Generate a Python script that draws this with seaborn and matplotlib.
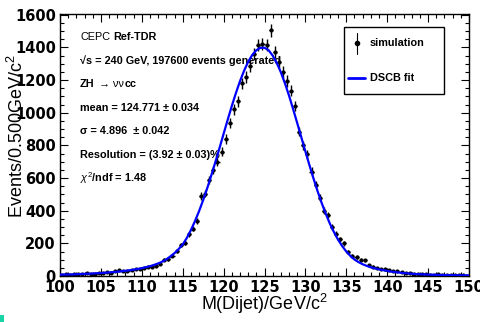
import numpy as np
import pandas as pd
import matplotlib
matplotlib.use("Agg")
import matplotlib.pyplot as plt
import seaborn as sns
from matplotlib.patches import Rectangle
from matplotlib.lines import Line2D

# ---------------- data ----------------
bin_lo, bin_hi, bin_w = 100.0, 150.0, 0.5
bin_centers = np.arange(bin_lo + bin_w / 2, bin_hi, bin_w)

counts = [
    9, 11, 8, 12, 10, 13, 18, 15, 14, 16,
    18, 22, 20, 30, 36, 28, 33, 36, 42, 45,
    50, 55, 58, 62, 75, 100, 105, 125, 155, 190,
    205, 255, 290, 335, 490, 505, 590, 650, 700, 760,
    840, 935, 1020, 1070, 1180, 1220, 1285, 1360, 1415, 1420,
    1415, 1505, 1370, 1310, 1250, 1195, 1135, 1040, 885, 800,
    745, 640, 560, 480, 400, 375, 300, 260, 225, 200,
    150, 125, 115, 100, 95, 68, 58, 50, 45, 40,
    36, 30, 28, 27, 20, 17, 14, 13, 11, 10,
    9, 8, 10, 7, 6, 8, 5, 4, 5, 3,
]

fit_x = np.arange(bin_lo, bin_hi + 0.01, 0.5)
fit_y = [
    8.5, 9, 9.5, 10, 11, 12, 13, 14, 15, 17,
    18, 20, 22, 24, 26, 29, 32, 35, 39, 43,
    48, 54, 60, 68, 77, 88, 102, 120, 140, 165,
    193, 233, 281, 336, 397, 465, 538, 617, 699, 784,
    871, 957, 1041, 1120, 1193, 1257, 1312, 1354, 1383, 1398,
    1398, 1383, 1350, 1305, 1248, 1180, 1105, 1022, 937, 850,
    763, 678, 596, 518, 446, 380, 320, 268, 222, 183,
    150, 123, 101, 85, 72, 62, 53, 47, 41, 36,
    31, 27, 24, 21, 18, 16, 14, 12, 11, 10,
    9, 8, 7, 6.5, 6, 5.5, 5, 4.5, 4, 4, 3.5,
]

x_ticks = [100, 105, 110, 115, 120, 125, 130, 135, 140, 145, 150]
y_ticks = [0, 200, 400, 600, 800, 1000, 1200, 1400, 1600]

df_data = pd.DataFrame({"mass": bin_centers, "events": counts})
df_fit = pd.DataFrame({"mass": fit_x, "fit": fit_y})

# ---------------- style ----------------
sns.set_theme(style="ticks")
plt.rcParams["font.family"] = ["Liberation Sans", "DejaVu Sans"]
plt.rcParams["text.color"] = "black"
plt.rcParams["axes.labelcolor"] = "black"
plt.rcParams["xtick.color"] = "black"
plt.rcParams["ytick.color"] = "black"
plt.rcParams["mathtext.fontset"] = "custom"
plt.rcParams["mathtext.rm"] = "Liberation Sans"
plt.rcParams["mathtext.it"] = "Liberation Sans:italic"
plt.rcParams["mathtext.bf"] = "Liberation Sans:bold"
plt.rcParams["mathtext.sf"] = "Liberation Sans"

fig = plt.figure(figsize=(4.8, 3.22), dpi=100)
ax = fig.add_axes([60 / 480, 1 - 276 / 322, 409 / 480, 262 / 322])

# data with errors
err = np.sqrt(df_data["events"].to_numpy())
ax.errorbar(df_data["mass"], df_data["events"], yerr=err, xerr=bin_w / 2,
            fmt="none", ecolor="black", elinewidth=1.0, capsize=0, zorder=3)
sns.scatterplot(data=df_data, x="mass", y="events", ax=ax, color="black",
                s=9, linewidth=0, marker="o", zorder=4, legend=False)
# fit curve
sns.lineplot(data=df_fit, x="mass", y="fit", ax=ax, color="#0000ff",
             linewidth=1.6, zorder=5, legend=False)

ax.set_xlim(bin_lo, bin_hi)
ax.set_ylim(0, 1605)
ax.set_xticks(x_ticks)
ax.set_yticks(y_ticks)
ax.set_xticks(np.arange(100, 151, 1), minor=True)
ax.set_yticks(np.arange(0, 1601, 50), minor=True)
ax.tick_params(which="both", direction="in", top=True, right=True,
               colors="black", labelcolor="black", width=0.8)
ax.tick_params(which="major", length=6, pad=3)
ax.tick_params(which="minor", length=3)
for lab in ax.get_xticklabels() + ax.get_yticklabels():
    lab.set_fontfamily("DejaVu Sans")
    lab.set_fontweight("bold")
    lab.set_fontsize(10.5)
    lab.set_color("black")
for s in ax.spines.values():
    s.set_color("black")
    s.set_linewidth(1.0)

ax.set_xlabel("M(Dijet)/GeV/c$^{2}$", fontsize=13, color="black")
ax.set_ylabel("Events/0.500GeV/c$^{2}$", fontsize=13, color="black")
ax.xaxis.set_label_coords(0.5, -0.06)
ax.yaxis.set_label_coords(-0.08, 0.535)

# annotations
fs = 7.8
tx = 0.049
kw = dict(transform=ax.transAxes, fontsize=fs, va="center", ha="left",
          color="black")
t1 = ax.text(tx, 0.913, "CEPC", **kw)
ax.annotate("Ref-TDR", xy=(1, 0.5), xycoords=t1, xytext=(2.5, 0),
            textcoords="offset points", fontsize=fs, fontweight="bold",
            va="center", ha="left", color="black")
ax.text(tx, 0.821, "\u221as = 240 GeV, 197600 events generated",
        fontweight="bold", **kw)
t3 = ax.text(tx, 0.733, "ZH", fontweight="bold", **kw)
t3b = ax.annotate("\u2192 \u03bd\u03bd", xy=(1, 0.5), xycoords=t3,
                  xytext=(3, 0), textcoords="offset points", fontsize=fs,
                  va="center", ha="left", color="black")
ax.annotate("cc", xy=(1, 0.5), xycoords=t3b, xytext=(0.5, 0),
            textcoords="offset points", fontsize=fs, fontweight="bold",
            va="center", ha="left", color="black")
ax.text(tx, 0.642, "mean = 124.771 \u00b1 0.034", fontweight="bold", **kw)
ax.text(tx, 0.553, "\u03c3 = 4.896  \u00b1 0.042", fontweight="bold", **kw)
ax.text(tx, 0.462, "Resolution = (3.92 \u00b1 0.03)%", fontweight="bold", **kw)
ax.text(tx, 0.374, "$\\chi^{2}$/ndf = 1.48", fontweight="bold", **kw)

# legend box (manual, ROOT-like)
bx0, by0, bw, bh = 0.694, 0.695, 0.245, 0.255
ax.add_patch(Rectangle((bx0, by0), bw, bh, transform=ax.transAxes,
                       facecolor="white", edgecolor="black", linewidth=1.0,
                       zorder=6))
ax.add_line(Line2D([0.725, 0.725], [0.848, 0.928], transform=ax.transAxes,
                   color="black", linewidth=0.8, zorder=7))
ax.add_line(Line2D([0.725], [0.888], transform=ax.transAxes, color="black",
                   marker="o", markersize=3, linestyle="none", zorder=7))
ax.text(0.758, 0.888, "simulation", transform=ax.transAxes, fontsize=fs,
        fontweight="bold", va="center", ha="left", zorder=7, color="black")
ax.add_line(Line2D([0.704, 0.746], [0.755, 0.755], transform=ax.transAxes,
                   color="#0000ff", linewidth=2.0, zorder=7))
ax.text(0.758, 0.755, "DSCB fit", transform=ax.transAxes, fontsize=fs,
        fontweight="bold", va="center", ha="left", zorder=7, color="black")

fig.patches.append(Rectangle((0, 0), 4 / 480, 7 / 322,
                             transform=fig.transFigure, facecolor="#19d4a4",
                             edgecolor="none"))

fig.savefig("out.png", dpi=100)
